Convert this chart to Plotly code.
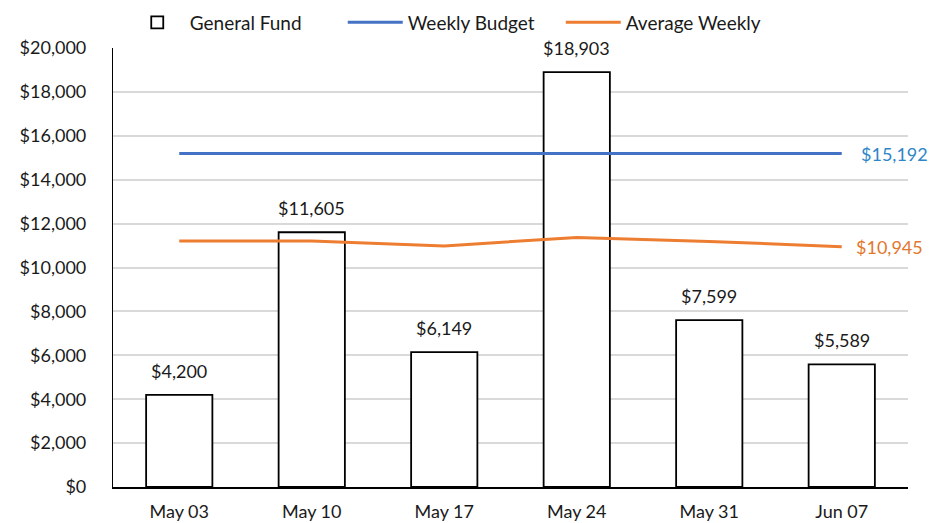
import plotly.graph_objects as go

categories = ["May 03", "May 10", "May 17", "May 24", "May 31", "Jun 07"]
general_fund = [4200, 11605, 6149, 18903, 7599, 5589]
weekly_budget = [15192, 15192, 15192, 15192, 15192, 15192]
average_weekly = [11210, 11205, 10980, 11370, 11190, 10945]
y_ticks = [0, 2000, 4000, 6000, 8000, 10000, 12000, 14000, 16000, 18000, 20000]

font_family = "Lato, 'Open Sans', sans-serif"
text_color = "#1a1a1a"

fig = go.Figure()
fig.add_trace(go.Bar(
    x=categories, y=general_fund, name="General Fund",
    marker=dict(color="white", line=dict(color="black", width=1.8)),
    width=0.5,
))
fig.add_trace(go.Scatter(
    x=categories, y=weekly_budget, name="Weekly Budget", mode="lines",
    line=dict(color="#4472C4", width=3),
))
fig.add_trace(go.Scatter(
    x=categories, y=average_weekly, name="Average Weekly", mode="lines",
    line=dict(color="#ED7D31", width=3),
))

for c, v in zip(categories, general_fund):
    fig.add_annotation(x=c, y=v, text=f"${v:,.0f}", showarrow=False,
                       yanchor="bottom", yshift=11,
                       font=dict(size=18, color=text_color, family=font_family))

fig.add_annotation(x=categories[-1], y=weekly_budget[-1], text=f"${weekly_budget[-1]:,.0f}",
                   showarrow=False, xanchor="left", xshift=17,
                   font=dict(size=18, color="#2E86C8", family=font_family))
fig.add_annotation(x=categories[-1], y=average_weekly[-1], text=f"${average_weekly[-1]:,.0f}",
                   showarrow=False, xanchor="left", xshift=12,
                   font=dict(size=18, color="#E2782E", family=font_family))

fig.update_layout(
    width=931, height=523,
    margin=dict(l=113, r=23, t=48, b=36, autoexpand=False),
    paper_bgcolor="white", plot_bgcolor="white",
    font=dict(family=font_family, size=18, color=text_color),
    legend=dict(orientation="h", xref="container", yref="container",
                x=0.134, y=0.957, xanchor="left", yanchor="middle",
                font=dict(size=19, color=text_color), itemwidth=55,
                traceorder="normal", entrywidth=148, entrywidthmode="pixels"),
    xaxis=dict(range=[-0.5, 5.5], showline=True, linecolor="black", linewidth=1.5,
               showgrid=False, ticks="", tickfont=dict(size=18), ticklabelstandoff=8),
    yaxis=dict(range=[0, 20000], tickvals=y_ticks,
               ticktext=[f"${v:,.0f}" for v in y_ticks],
               showline=True, linecolor="black", linewidth=1.2,
               gridcolor="#D9D9D9", gridwidth=1.5, zeroline=False,
               ticks="", tickfont=dict(size=18), ticklabelstandoff=22),
)

fig.write_html("out.html", config={"displayModeBar": False},
               post_script="document.body.style.margin='0';document.body.style.overflow='hidden';")
